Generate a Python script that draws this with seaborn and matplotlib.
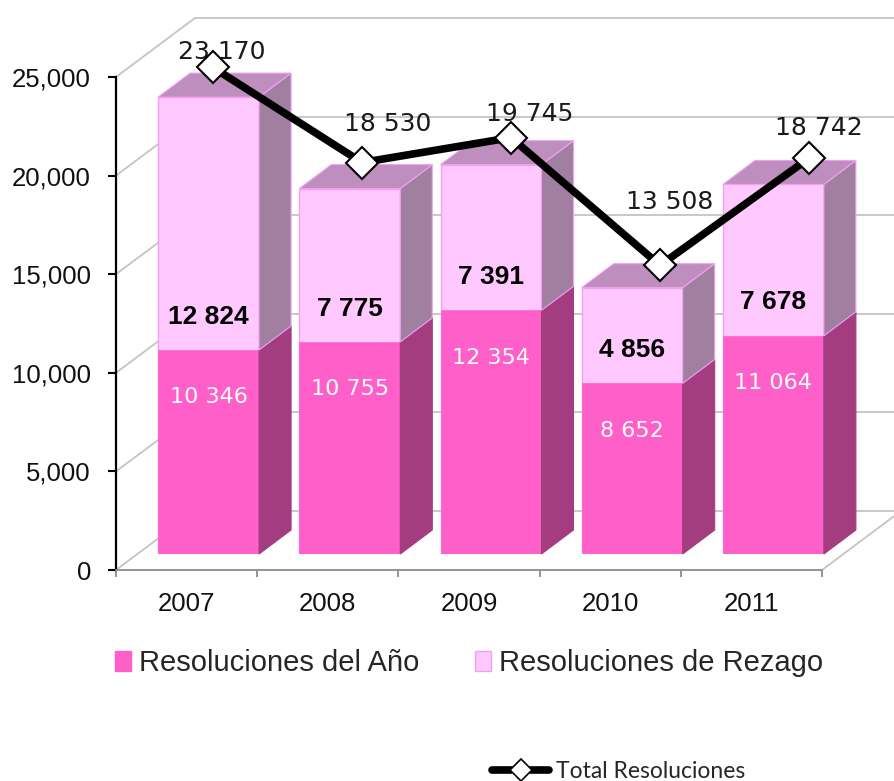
import matplotlib
matplotlib.use("Agg")
import numpy as np
import matplotlib.pyplot as plt
import seaborn as sns
from matplotlib.patches import Polygon, Patch
from matplotlib.lines import Line2D

# Datos
anios = ["2007", "2008", "2009", "2010", "2011"]
res_anio = [10346, 10755, 12354, 8652, 11064]
res_rezago = [12824, 7775, 7391, 4856, 7678]
total_res = [23170, 18530, 19745, 13508, 18742]
ticks_y = [0, 5000, 10000, 15000, 20000, 25000]

# desplazamiento (px) de las etiquetas de la línea, como en el original
desplaz_etiquetas = [(9, 15), (26, 39), (19, 24), (10, 63), (10, 30)]

ROSA = "#FF5FC8"
ROSA_LADO = "#A33D80"
ROSA_CLARO = "#FFC8FF"
ROSA_CLARO_LADO = "#A07FA0"
TECHO = "#BE8EBE"
BORDE_CLARO = "#F2A0F2"
GRIS = "#C4C4C4"

sns.set_style("white")
plt.rcParams["font.family"] = ["Liberation Sans", "DejaVu Sans"]

W, H = 895, 781
fig = plt.figure(figsize=(W / 100, H / 100), dpi=100)


def caja(x0, y_top, x1, y_bot):
    return [x0 / W, 1 - y_bot / H, (x1 - x0) / W, (y_bot - y_top) / H]


def px_a_datos(ax, dx, dy):
    p0 = ax.transData.transform((0, 0))
    p1 = ax.transData.transform((1, 1))
    esc = p1 - p0
    return dx / esc[0], dy / esc[1]


# --- plano frontal: ejes y paredes ---
ax = fig.add_axes(caja(116, 77, 822, 570))
ax.set_xlim(-0.5, 4.5)
ax.set_ylim(0, 25000)
ax.patch.set_alpha(0)

pdx, pdy = px_a_datos(ax, 79, 59)
for t in ticks_y:
    ax.plot([-0.5, -0.5 + pdx], [t, t + pdy], color=GRIS, lw=1.3, clip_on=False, zorder=0)
    ax.plot([-0.5 + pdx, 6], [t + pdy, t + pdy], color=GRIS, lw=1.3, clip_on=False, zorder=0)
ax.plot([4.5, 4.5 + pdx], [0, pdy], color=GRIS, lw=1.3, clip_on=False, zorder=0)

ax.set_yticks(ticks_y)
ax.set_yticklabels([f"{t:,}" for t in ticks_y])
ax.set_xticks(range(len(anios)))
ax.set_xticklabels(anios)
ax.set_xticks(np.arange(-0.5, len(anios)), minor=True)
ax.tick_params(axis="y", length=6, width=1.5, color="black", pad=12, labelsize=18.5,
               labelcolor="#111111", left=True)
ax.tick_params(axis="x", which="major", length=0, pad=16, labelsize=18.5, labelcolor="#111111")
ax.tick_params(axis="x", which="minor", length=5, width=1.3, color="#8C8C8C", bottom=True)
for s in ["top", "right"]:
    ax.spines[s].set_visible(False)
ax.spines["left"].set_color("black")
ax.spines["left"].set_linewidth(1.6)
ax.spines["bottom"].set_color("#8C8C8C")
ax.spines["bottom"].set_linewidth(1.3)
ax.grid(False)

# --- barras apiladas (plano desplazado hacia el fondo) ---
ax_b = fig.add_axes(caja(138, 61, 844, 554))
ax_b.set_zorder(1)
sns.barplot(x=anios, y=total_res, color=ROSA_CLARO, saturation=1, width=0.715,
            edgecolor=BORDE_CLARO, linewidth=1, ax=ax_b)
sns.barplot(x=anios, y=res_anio, color=ROSA, saturation=1, width=0.715,
            edgecolor=ROSA, linewidth=0.5, ax=ax_b)
ax_b.set_xlim(-0.5, 4.5)
ax_b.set_ylim(0, 25000)
ax_b.axis("off")

bdx, bdy = px_a_datos(ax_b, 32, 24)
n = len(anios)
for i, barra in enumerate(ax_b.patches[:n]):
    x1 = barra.get_x() + barra.get_width()
    x0 = barra.get_x()
    a, tot = res_anio[i], total_res[i]
    caras = [
        ([(x1, 0), (x1, a), (x1 + bdx, a + bdy), (x1 + bdx, bdy)], ROSA_LADO, ROSA_LADO),
        ([(x1, a), (x1, tot), (x1 + bdx, tot + bdy), (x1 + bdx, a + bdy)], ROSA_CLARO_LADO, BORDE_CLARO),
        ([(x0, tot), (x1, tot), (x1 + bdx, tot + bdy), (x0 + bdx, tot + bdy)], TECHO, BORDE_CLARO),
    ]
    for verts, fc, ec in caras:
        ax_b.add_patch(Polygon(verts, closed=True, facecolor=fc, edgecolor=ec, lw=0.8, clip_on=False))

    ax_b.annotate(f"{a:,}".replace(",", " "), (i, a), xytext=(0, -34), textcoords="offset points",
                  ha="center", va="center", color="white", fontsize=16, family="DejaVu Sans")
    ax_b.annotate(f"{res_rezago[i]:,}".replace(",", " "), (i, a), xytext=(0, 24),
                  textcoords="offset points", ha="center", va="center", color="black",
                  fontsize=19, fontweight="bold")

# --- línea de totales ---
ax_l = fig.add_axes(caja(138.5, 30, 883.5, 542))
ax_l.set_zorder(2)
sns.lineplot(x=list(range(n)), y=total_res, color="black", lw=5.5, marker="D",
             markersize=16, markerfacecolor="white", markeredgecolor="black",
             markeredgewidth=1.5, ax=ax_l, zorder=3)
ax_l.set_xlim(-0.5, 4.5)
ax_l.set_ylim(0, 25000)
ax_l.axis("off")
for i, v in enumerate(total_res):
    ox, oy = desplaz_etiquetas[i]
    ax_l.annotate(f"{v:,}".replace(",", " "), (i, v), xytext=(ox * 0.72, oy * 0.72),
                  textcoords="offset points", ha="center", va="center", color="#1A1A1A",
                  fontsize=18, family="DejaVu Sans", zorder=1)

# --- leyendas ---
h1 = [Patch(facecolor=ROSA, edgecolor=ROSA), Patch(facecolor=ROSA_CLARO, edgecolor=BORDE_CLARO)]
fig.legend(h1, ["Resoluciones del Año", "Resoluciones de Rezago"], ncol=2,
           loc="center left", bbox_to_anchor=(115 / W, 1 - 663 / H), frameon=False,
           borderpad=0, borderaxespad=0, handlelength=0.55, handleheight=0.69,
           handletextpad=0.28, columnspacing=1.9,
           prop={"family": ["Liberation Sans"], "size": 21})

h2 = [Line2D([], [], color="black", lw=5.5, marker="D", markersize=11,
             markerfacecolor="white", markeredgecolor="black", markeredgewidth=1.2)]
fig.legend(h2, ["Total Resoluciones"], loc="center left",
           bbox_to_anchor=(492 / W, 1 - 772 / H), frameon=False, borderpad=0,
           borderaxespad=0, handlelength=2.5, handletextpad=0.3,
           prop={"family": ["Lato", "DejaVu Sans"], "size": 16.5})

fig.savefig("out.png", dpi=100)
